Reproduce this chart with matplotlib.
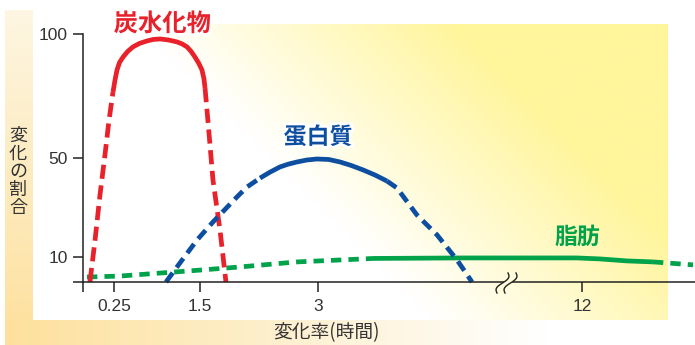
import numpy as np
import matplotlib
matplotlib.use("Agg")
import matplotlib.pyplot as plt
import matplotlib.patheffects as pe

plt.rcParams['font.family'] = ['Noto Sans CJK JP', 'DejaVu Sans']

W, H = 695, 345

# hours -> position along the axis (the axis is compressed after 3h)
HOURS_KNOTS = [0, 0.25, 1.5, 3, 12, 16]
AXIS_KNOTS = [0, 31, 117, 235, 499, 612]

x_ticks = [0, 0.25, 1.5, 3, 12]
x_tick_labels = ['', '0.25', '1.5', '3', '12']
y_ticks = [0, 10, 50, 100]
y_tick_labels = ['', '10', '50', '100']

# 炭水化物 (carbohydrate)
carb_rise_h = [0.056, 0.097, 0.137, 0.177, 0.21, 0.242]
carb_rise_v = [0, 16.9, 35.1, 51.2, 65.3, 76.6]
carb_peak_h = [0.242, 0.265, 0.294, 0.33, 0.381, 0.45, 0.526, 0.62, 0.73, 0.82, 0.919,
               1.04, 1.166, 1.24, 1.311, 1.37, 1.427, 1.48, 1.525, 1.55, 1.564]
carb_peak_v = [76.6, 81.5, 85.5, 88.5, 90.7, 93.0, 94.8, 96.2, 97.2, 97.8, 98.0,
               97.6, 96.8, 96.0, 94.8, 93.0, 90.7, 88.3, 85.5, 82.0, 78.2]
carb_fall_h = [1.564, 1.60, 1.665, 1.754, 1.83]
carb_fall_v = [78.2, 65.3, 41.1, 21.0, 0]

# 蛋白質 (protein)
prot_rise_h = [1.006, 1.209, 1.456, 1.665, 1.97, 2.097, 2.263]
prot_rise_v = [0, 7.7, 16.9, 24.2, 34.3, 38.3, 41.9]
prot_peak_h = [2.263, 2.39, 2.517, 2.62, 2.733, 2.86, 2.987, 3.37, 3.75, 4.13, 4.534, 4.95, 5.352]
prot_peak_v = [41.9, 44.3, 46.4, 47.5, 48.4, 49.2, 49.6, 49.4, 48.4, 47.0, 45.2, 43.1, 40.7]
prot_fall_h = [5.352, 5.693, 6.375, 7.057, 7.739, 8.25]
prot_fall_v = [40.7, 37.9, 27.0, 19.0, 8.9, 0]

# 脂肪 (fat)
fat_early_h = [0.032, 0.337, 0.919, 1.5, 1.983, 2.733, 4.534, 4.875]
fat_early_v = [2.0, 2.4, 3.6, 4.8, 6.0, 8.1, 9.3, 9.5]
fat_mid_h = [4.875, 7.84, 11.83, 12.64, 13.59, 14.51]
fat_mid_v = [9.5, 9.7, 9.7, 9.3, 8.5, 8.1]
fat_late_h = [14.51, 14.76, 15.93]
fat_late_v = [8.1, 7.9, 6.9]

RED = '#e8212b'
BLUE = '#0d4ea1'
GREEN = '#00a24a'
INK = '#333333'


def fwd(h):
    return np.interp(h, HOURS_KNOTS, AXIS_KNOTS)


def inv(p):
    return np.interp(p, AXIS_KNOTS, HOURS_KNOTS)


def panel_rgb(xp, yp):
    # diagonal white -> yellow wash of the plot panel
    t = np.clip((xp - 33 + (320 - yp) - 400) / 320, 0, 1)[..., None]
    white = np.array([1.0, 1.0, 1.0])
    yellow = np.array([255, 245, 155]) / 255
    return white * (1 - t) + yellow * t


fig = plt.figure(figsize=(W / 100, H / 100), dpi=100)

# background bands and panel, drawn in pixel coordinates
bg = fig.add_axes([0, 0, 1, 1], zorder=0)
bg.set_xlim(0, W)
bg.set_ylim(H, 0)
bg.axis('off')

yy = np.linspace(10, H, 200)[:, None, None]
top_c = np.array([253, 246, 226]) / 255
bot_c = np.array([253, 224, 156]) / 255
ft = (yy - 10) / (H - 10)
left_band = top_c * (1 - ft) + bot_c * ft
bg.imshow(left_band, extent=(5, 33, H, 10), aspect='auto', interpolation='bilinear')

xx = np.linspace(5, W, 400)[None, :, None]
fx = np.clip((xx - 5) / 540, 0, 1)
bottom_band = bot_c * (1 - fx) + np.array([1.0, 1.0, 1.0]) * fx
bg.imshow(bottom_band, extent=(5, W, H, 320), aspect='auto', interpolation='bilinear')

px, py = np.meshgrid(np.linspace(33, 668, 300), np.linspace(24, 320, 150))
bg.imshow(panel_rgb(px, py), extent=(33, 668, 320, 24), aspect='auto', interpolation='bilinear')

# main chart
ax = fig.add_axes([83 / W, 1 - 282 / H, (W - 83) / W, (282 - 34) / H], zorder=1)
ax.patch.set_alpha(0)
ax.set_xscale('function', functions=(fwd, inv))
ax.set_xlim(0, 16)
ax.set_ylim(0, 100)
for s in ['top', 'right']:
    ax.spines[s].set_visible(False)
for s in ['left', 'bottom']:
    ax.spines[s].set_linewidth(1.1)
    ax.spines[s].set_color('#222222')
ax.spines['left'].set_bounds(0, 100)

ax.set_xticks(x_ticks, labels=x_tick_labels)
ax.set_yticks(y_ticks, labels=y_tick_labels)
ax.minorticks_off()
ax.tick_params(axis='both', length=7.5, width=1.1, color='#222222',
               labelsize=12.5, labelcolor=INK)
ax.tick_params(axis='x', pad=4.5)
ax.tick_params(axis='y', pad=3.5)
for lab in ax.get_xticklabels() + ax.get_yticklabels():
    lab.set_fontfamily(['Liberation Sans', 'DejaVu Sans'])

LW = 3.4


def seg(h, v, color, dashed, dash=(2.6, 1.3)):
    line, = ax.plot(h, v, color=color, lw=LW, clip_on=False,
                    solid_capstyle='butt', solid_joinstyle='round',
                    dash_capstyle='butt')
    if dashed:
        line.set_dashes(dash)
    return line


# fat
seg(fat_early_h, fat_early_v, GREEN, True, (2.2, 1.5))
seg(fat_mid_h, fat_mid_v, GREEN, False)
seg(fat_late_h, fat_late_v, GREEN, True, (2.2, 1.5))

# carbohydrate
seg(carb_rise_h, carb_rise_v, RED, True, (3.0, 1.4))
seg(carb_peak_h, carb_peak_v, RED, False)
seg(carb_fall_h, carb_fall_v, RED, True, (3.0, 1.4))

# protein
seg(prot_rise_h, prot_rise_v, BLUE, True, (2.4, 1.4))
seg(prot_peak_h, prot_peak_v, BLUE, False)
seg(prot_fall_h, prot_fall_v, BLUE, True, (2.4, 1.4))

halo = [pe.withStroke(linewidth=4, foreground='white')]
ax.text(0.95, 104, '炭水化物', color=RED, fontsize=17.5, fontweight='bold',
        ha='center', va='center', clip_on=False, path_effects=halo)
ax.text(3.0, 58.3, '蛋白質', color=BLUE, fontsize=16.5, fontweight='bold',
        ha='center', va='center', path_effects=halo)
ax.text(11.83, 18.1, '脂肪', color=GREEN, fontsize=16.5, fontweight='bold',
        ha='center', va='center')

# axis titles
fig.text(18 / W, 1 - 172 / H, '\n'.join('変化の割合'), color=INK, fontsize=13,
         ha='center', va='center', linespacing=1.0)
fig.text(326 / W, 1 - 333 / H, '変化率(時間)', color=INK, fontsize=13.5,
         ha='center', va='center')

# axis break mark
deco = fig.add_axes([0, 0, 1, 1], zorder=2)
deco.set_xlim(0, W)
deco.set_ylim(H, 0)
deco.axis('off')
t = np.linspace(0, 1, 60)
sx = -11 * t + 3.2 * np.sin(2 * np.pi * t)
sy = 273 + 20 * t
gap = np.concatenate([np.c_[508 + sx, sy], np.c_[516 + sx, sy][::-1]])
deco.fill(gap[:, 0], gap[:, 1], color=panel_rgb(np.array(507.0), np.array(282.0)), lw=0)
deco.plot(508 + sx, sy, color='#222222', lw=1.0)
deco.plot(516 + sx, sy, color='#222222', lw=1.0)

fig.savefig('out.png', dpi=100)
